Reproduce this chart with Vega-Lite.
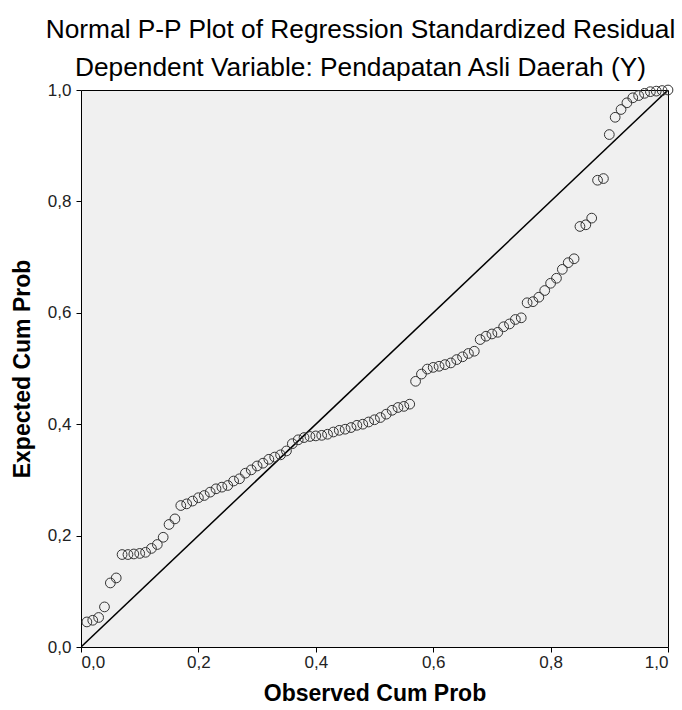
{
  "$schema": "https://vega.github.io/schema/vega-lite/v6.json",
  "width": 587,
  "height": 557,
  "autosize": {"type": "none"},
  "padding": {"left": 81, "top": 90, "right": 14, "bottom": 63},
  "background": "white",
  "title": {
    "text": "Normal P-P Plot of Regression Standardized Residual",
    "subtitle": "Dependent Variable: Pendapatan Asli Daerah (Y)",
    "anchor": "middle",
    "frame": "group",
    "dx": -14,
    "font": "Liberation Sans",
    "fontSize": 26.3,
    "fontWeight": "normal",
    "color": "#000000",
    "subtitleFont": "Liberation Sans",
    "subtitleFontSize": 26.3,
    "subtitleFontWeight": "normal",
    "subtitleColor": "#000000",
    "subtitlePadding": 11,
    "offset": 0
  },
  "config": {
    "view": {"fill": "#f0f0f0", "stroke": "#000000", "strokeWidth": 1},
    "axis": {
      "domain": false,
      "grid": false,
      "ticks": true,
      "tickColor": "#000000",
      "tickSize": 5,
      "labelFont": "Liberation Sans",
      "labelFontSize": 17,
      "labelColor": "#222222",
      "titleFont": "Liberation Sans",
      "titleFontSize": 23,
      "titleFontWeight": "bold",
      "titleColor": "#000000"
    }
  },
  "datasets": {
    "ref": [{"x": 0, "y": 0}, {"x": 1, "y": 1}],
    "pts": [
      {"obs": 0.01, "exp": 0.045}, {"obs": 0.02, "exp": 0.048}, {"obs": 0.03, "exp": 0.053}, {"obs": 0.04, "exp": 0.072},
      {"obs": 0.05, "exp": 0.115}, {"obs": 0.06, "exp": 0.124}, {"obs": 0.07, "exp": 0.166}, {"obs": 0.08, "exp": 0.166},
      {"obs": 0.09, "exp": 0.167}, {"obs": 0.10, "exp": 0.168}, {"obs": 0.11, "exp": 0.170}, {"obs": 0.12, "exp": 0.177},
      {"obs": 0.13, "exp": 0.184}, {"obs": 0.14, "exp": 0.197}, {"obs": 0.15, "exp": 0.220}, {"obs": 0.16, "exp": 0.230},
      {"obs": 0.17, "exp": 0.254}, {"obs": 0.18, "exp": 0.257}, {"obs": 0.19, "exp": 0.262}, {"obs": 0.20, "exp": 0.268},
      {"obs": 0.21, "exp": 0.272}, {"obs": 0.22, "exp": 0.278}, {"obs": 0.23, "exp": 0.284}, {"obs": 0.24, "exp": 0.287},
      {"obs": 0.25, "exp": 0.290}, {"obs": 0.26, "exp": 0.298}, {"obs": 0.27, "exp": 0.302}, {"obs": 0.28, "exp": 0.312},
      {"obs": 0.29, "exp": 0.318}, {"obs": 0.30, "exp": 0.325}, {"obs": 0.31, "exp": 0.330}, {"obs": 0.32, "exp": 0.337},
      {"obs": 0.33, "exp": 0.341}, {"obs": 0.34, "exp": 0.345}, {"obs": 0.35, "exp": 0.352}, {"obs": 0.36, "exp": 0.365},
      {"obs": 0.37, "exp": 0.372}, {"obs": 0.38, "exp": 0.376}, {"obs": 0.39, "exp": 0.378}, {"obs": 0.40, "exp": 0.379},
      {"obs": 0.41, "exp": 0.380}, {"obs": 0.42, "exp": 0.382}, {"obs": 0.43, "exp": 0.386}, {"obs": 0.44, "exp": 0.389},
      {"obs": 0.45, "exp": 0.391}, {"obs": 0.46, "exp": 0.394}, {"obs": 0.47, "exp": 0.398}, {"obs": 0.48, "exp": 0.400},
      {"obs": 0.49, "exp": 0.404}, {"obs": 0.50, "exp": 0.408}, {"obs": 0.51, "exp": 0.412}, {"obs": 0.52, "exp": 0.418},
      {"obs": 0.53, "exp": 0.425}, {"obs": 0.54, "exp": 0.430}, {"obs": 0.55, "exp": 0.432}, {"obs": 0.56, "exp": 0.436},
      {"obs": 0.57, "exp": 0.477}, {"obs": 0.58, "exp": 0.490}, {"obs": 0.59, "exp": 0.499}, {"obs": 0.60, "exp": 0.502},
      {"obs": 0.61, "exp": 0.504}, {"obs": 0.62, "exp": 0.507}, {"obs": 0.63, "exp": 0.510}, {"obs": 0.64, "exp": 0.516},
      {"obs": 0.65, "exp": 0.521}, {"obs": 0.66, "exp": 0.527}, {"obs": 0.67, "exp": 0.531}, {"obs": 0.68, "exp": 0.552},
      {"obs": 0.69, "exp": 0.558}, {"obs": 0.70, "exp": 0.562}, {"obs": 0.71, "exp": 0.565}, {"obs": 0.72, "exp": 0.575},
      {"obs": 0.73, "exp": 0.580}, {"obs": 0.74, "exp": 0.588}, {"obs": 0.75, "exp": 0.591}, {"obs": 0.76, "exp": 0.618},
      {"obs": 0.77, "exp": 0.620}, {"obs": 0.78, "exp": 0.628}, {"obs": 0.79, "exp": 0.640}, {"obs": 0.80, "exp": 0.653},
      {"obs": 0.81, "exp": 0.662}, {"obs": 0.82, "exp": 0.678}, {"obs": 0.83, "exp": 0.690}, {"obs": 0.84, "exp": 0.697},
      {"obs": 0.85, "exp": 0.755}, {"obs": 0.86, "exp": 0.758}, {"obs": 0.87, "exp": 0.770}, {"obs": 0.88, "exp": 0.838},
      {"obs": 0.89, "exp": 0.841}, {"obs": 0.90, "exp": 0.920}, {"obs": 0.91, "exp": 0.951}, {"obs": 0.92, "exp": 0.965},
      {"obs": 0.93, "exp": 0.977}, {"obs": 0.94, "exp": 0.986}, {"obs": 0.95, "exp": 0.990}, {"obs": 0.96, "exp": 0.994},
      {"obs": 0.97, "exp": 0.997}, {"obs": 0.98, "exp": 0.998}, {"obs": 0.99, "exp": 0.999}, {"obs": 1.00, "exp": 1.000}
    ]
  },
  "layer": [
    {
      "data": {"name": "ref"},
      "mark": {"type": "line", "color": "#000000", "strokeWidth": 1.5, "clip": true},
      "encoding": {
        "x": {"field": "x", "type": "quantitative", "scale": {"domain": [0, 1], "nice": false, "zero": false},
          "axis": {"values": [0, 0.2, 0.4, 0.6, 0.8, 1], "labelExpr": "replace(format(datum.value, '.1f'), '.', ',')", "title": "Observed Cum Prob", "labelPadding": 2, "titlePadding": 12}},
        "y": {"field": "y", "type": "quantitative", "scale": {"domain": [0, 1], "nice": false, "zero": false},
          "axis": {"values": [0, 0.2, 0.4, 0.6, 0.8, 1], "labelExpr": "replace(format(datum.value, '.1f'), '.', ',')", "title": "Expected Cum Prob", "labelPadding": 5, "titlePadding": 13}}
      }
    },
    {
      "data": {"name": "pts"},
      "mark": {"type": "point", "shape": "circle", "filled": false, "size": 95, "stroke": "#333333", "strokeWidth": 1, "opacity": 1},
      "encoding": {
        "x": {"field": "obs", "type": "quantitative"},
        "y": {"field": "exp", "type": "quantitative"}
      }
    }
  ]
}
